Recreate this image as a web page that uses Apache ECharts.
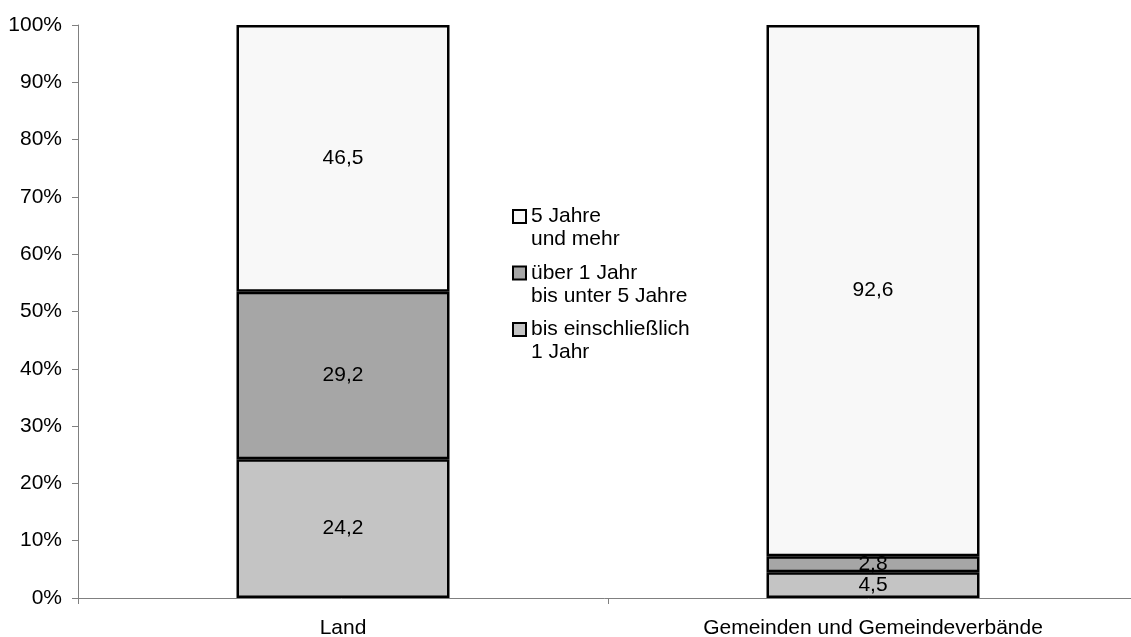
<!DOCTYPE html>
<html><head><meta charset="utf-8">
<script src="https://cdn.jsdelivr.net/npm/echarts@6/dist/echarts.min.js"></script>
<style>html,body{margin:0;padding:0;background:#fff}#c{width:1131px;height:637px}</style>
</head><body><div id="c"></div>
<script>
const categories = ["Land", "Gemeinden und Gemeindeverbände"];
const bisEinschl1 = [24.2, 4.5];
const ueber1bis5 = [29.2, 2.8];
const fuenfUndMehr = [46.5, 92.6];
const seriesNames = ["bis einschließlich\n1 Jahr", "über 1 Jahr\nbis unter 5 Jahre", "5 Jahre\nund mehr"];
const yTicks = [0,10,20,30,40,50,60,70,80,90,100];

const raw = [bisEinschl1, ueber1bis5, fuenfUndMehr];
const totals = categories.map((_, i) => raw.reduce((s, a) => s + a[i], 0));
const colors = ["#c4c4c4", "#a6a6a6", "#f8f8f8"];
const font = "'Liberation Sans', Arial, sans-serif";
const fs = 21;

const series = raw.map((arr, k) => ({
  name: seriesNames[k],
  type: 'bar',
  stack: 'total',
  barWidth: 213,
  data: arr.map((v, i) => ({ value: v / totals[i] * 100, orig: v })),
  itemStyle: { color: colors[k], borderColor: '#000', borderWidth: 2.5 },
  label: {
    show: true, position: 'inside', color: '#000', fontSize: fs, fontFamily: font,
    formatter: p => p.data.orig.toFixed(1).replace('.', ',')
  }
}));

const chart = echarts.init(document.getElementById('c'));
chart.setOption({
  animation: false,
  textStyle: { fontFamily: font },
  grid: { left: 78, width: 1060, top: 25, bottom: 39, containLabel: false, outerBoundsMode: 'none' },
  legend: {
    orient: 'vertical', left: 512, top: 182, padding: 0,
    data: [seriesNames[2], seriesNames[1], seriesNames[0]],
    itemWidth: 13, itemHeight: 13, itemGap: -12.5,
    icon: 'rect',
    itemStyle: { borderColor: '#000', borderWidth: 2 },
    selectedMode: false,
    formatter: n => '\n' + n,
    textStyle: { fontSize: fs, color: '#000', fontFamily: font, lineHeight: 23 }
  },
  xAxis: {
    type: 'category', data: categories,
    axisLine: { lineStyle: { color: '#808080', width: 1 } },
    axisTick: { show: true, length: 6, lineStyle: { color: '#808080' } },
    axisLabel: { color: '#000', fontSize: fs, fontFamily: font, margin: 20 }
  },
  yAxis: {
    type: 'value', min: 0, max: 100, interval: 10,
    axisLine: { show: true, lineStyle: { color: '#808080', width: 1 } },
    axisTick: { show: true, length: 6, lineStyle: { color: '#808080' } },
    splitLine: { show: false },
    axisLabel: { color: '#000', fontSize: fs, fontFamily: font, margin: 16,
      formatter: v => yTicks.includes(v) ? v + '%' : '' }
  },
  series: series
});
</script></body></html>
